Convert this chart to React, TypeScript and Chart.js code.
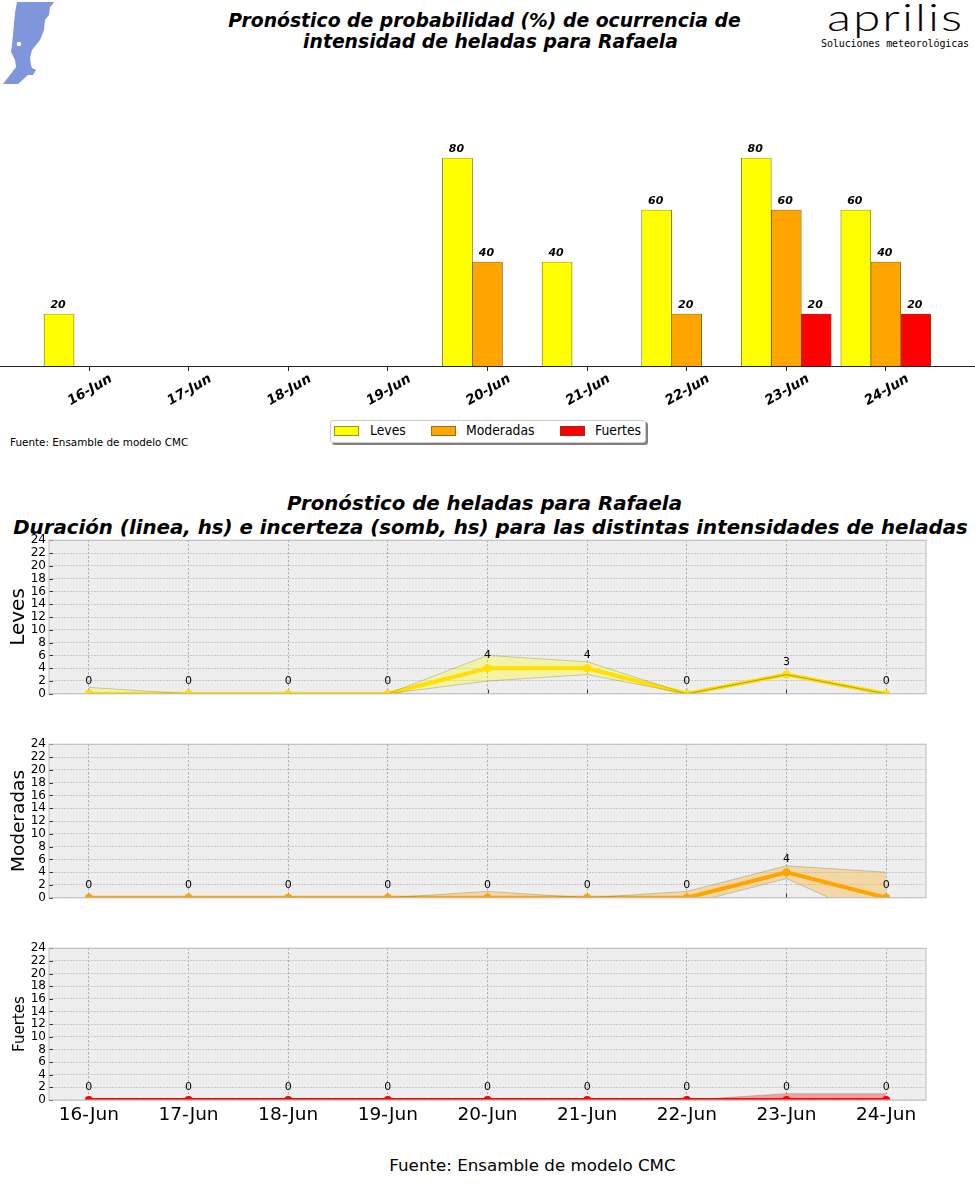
import { useEffect, useRef } from "react";
import { Chart, registerables } from "chart.js";

Chart.register(...registerables);
Chart.defaults.font.family = "'DejaVu Sans'";
Chart.defaults.color = "#000";

const days = ["16-Jun", "17-Jun", "18-Jun", "19-Jun", "20-Jun", "21-Jun", "22-Jun", "23-Jun", "24-Jun"];
const dayIndex = days.map((_, i) => i);
const hourTicks = [0, 2, 4, 6, 8, 10, 12, 14, 16, 18, 20, 22, 24];

// probabilidad (%)
const probLeves = [20, 0, 0, 0, 80, 40, 60, 80, 60];
const probModeradas = [0, 0, 0, 0, 40, 0, 20, 60, 40];
const probFuertes = [0, 0, 0, 0, 0, 0, 0, 20, 20];

// duracion (hs) y somb
const durLeves = [0, 0, 0, 0, 4, 4, 0, 3, 0];
const maxLeves = [1, 0, 0, 0, 6, 5, 0, 3, 0];
const minLeves = [0, 0, 0, 0, 2, 3, 0, 3, 0];

const durModeradas = [0, 0, 0, 0, 0, 0, 0, 4, 0];
const maxModeradas = [0, 0, 0, 0, 1, 0, 1, 5, 4];
const minModeradas = [0, 0, 0, 0, -1, 0, -1, 3, -4];

const durFuertes = [0, 0, 0, 0, 0, 0, 0, 0, 0];
const maxFuertes = [0, 0, 0, 0, 0, 0, 0, 1, 1];
const minFuertes = [0, 0, 0, 0, 0, 0, 0, -1, -1];

const YELLOW = "#ffff00";
const ORANGE = "#ffa500";
const RED = "#ff0000";

const probSeries = [
  { label: "Leves", data: probLeves, color: YELLOW },
  { label: "Moderadas", data: probModeradas, color: ORANGE },
  { label: "Fuertes", data: probFuertes, color: RED },
];

const barLabels = {
  id: "barLabels",
  afterDatasetsDraw(chart: any) {
    const ctx = chart.ctx;
    ctx.save();
    ctx.font = "italic bold 11px 'DejaVu Sans'";
    ctx.fillStyle = "#000";
    ctx.textAlign = "center";
    chart.data.datasets.forEach((ds: any, i: number) => {
      chart.getDatasetMeta(i).data.forEach((bar: any, j: number) => {
        if (ds.data[j].y > 0) ctx.fillText(String(ds.data[j].y), bar.x - 1, bar.y - 6);
      });
    });
    ctx.restore();
  },
};

const panelFrame = {
  id: "panelFrame",
  beforeDraw(chart: any) {
    const { ctx, chartArea: a } = chart;
    ctx.fillStyle = "#eeeeee";
    ctx.fillRect(a.left, a.top, a.right - a.left, a.bottom - a.top);
  },
  beforeDatasetsDraw(chart: any) {
    const { ctx, chartArea: a, scales } = chart;
    // ticks hacia adentro
    ctx.save();
    ctx.strokeStyle = "#333";
    ctx.lineWidth = 1;
    ctx.beginPath();
    scales.y.ticks.forEach((t: any) => {
      const y = Math.round(scales.y.getPixelForValue(t.value)) + 0.5;
      ctx.moveTo(a.left, y);
      ctx.lineTo(a.left + 4, y);
    });
    scales.x.ticks.forEach((t: any) => {
      const x = Math.round(scales.x.getPixelForValue(t.value)) + 0.5;
      ctx.moveTo(x, a.bottom);
      ctx.lineTo(x, a.bottom - 4);
    });
    ctx.stroke();
    ctx.restore();
  },
  afterDraw(chart: any) {
    const { ctx, chartArea: a } = chart;
    ctx.save();
    ctx.strokeStyle = "#bdbdbd";
    ctx.lineWidth = 1;
    ctx.strokeRect(a.left, a.top, a.right - a.left, a.bottom - a.top);
    ctx.restore();
  },
};

const hourLabels = {
  id: "hourLabels",
  afterDatasetsDraw(chart: any) {
    const ctx = chart.ctx;
    const ds = chart.data.datasets[2];
    ctx.save();
    ctx.font = "11px 'DejaVu Sans'";
    ctx.fillStyle = "#000";
    ctx.textAlign = "center";
    chart.getDatasetMeta(2).data.forEach((pt: any, j: number) => {
      ctx.fillText(String(ds.data[j].y), pt.x, pt.y - 10);
    });
    ctx.restore();
  },
};

const probConfig = (): any => ({
  type: "bar",
  data: {
    datasets: probSeries.map((s) => ({
      label: s.label,
      data: s.data.map((y, i) => ({ x: i, y })),
      backgroundColor: s.color,
      borderColor: "#55552a",
      borderWidth: 0.7,
      barThickness: 30,
    })),
  },
  options: {
    animation: false,
    responsive: false,
    layout: { padding: { top: 106 } },
    plugins: { legend: { display: false }, tooltip: { enabled: false } },
    scales: {
      x: {
        type: "linear",
        offset: false,
        min: -0.894,
        max: 8.895,
        afterBuildTicks: (scale: any) => {
          scale.ticks = dayIndex.map((value) => ({ value }));
        },
        afterFit: (scale: any) => {
          scale.height = 49;
        },
        grid: { offset: false, drawOnChartArea: false, tickLength: 5, tickColor: "#222" },
        border: { color: "#222" },
        ticks: {
          autoSkip: false,
          includeBounds: false,
          minRotation: 30,
          maxRotation: 30,
          labelOffset: 22,
          padding: 0,
          font: { size: 13.5, weight: "bold", style: "italic" },
          callback: (v: number) => days[v],
        },
      },
      y: { display: false, min: 0, max: 100 },
    },
  },
});

const hourConfig = (
  title: string,
  titleSize: number,
  titlePad: number,
  color: string,
  band: string,
  mean: number[],
  upper: number[],
  lower: number[],
  bottom: number,
  showDays: boolean,
): any => {
  const points = (vals: number[]) => vals.map((y, i) => ({ x: i, y }));
  const edge = { pointRadius: 0, borderWidth: 1, borderColor: "rgba(100,100,80,0.3)", fill: false, clip: 0 };
  const shade = { pointRadius: 0, borderWidth: 0, backgroundColor: band, clip: 0 };
  return {
    type: "line",
    data: {
      datasets: [
        // primero = arriba: bordes de la sombra, linea, relleno
        { ...edge, label: "max", data: points(upper) },
        { ...edge, label: "min", data: points(lower) },
        {
          label: title,
          data: points(mean),
          borderColor: color,
          backgroundColor: color,
          borderWidth: 4,
          pointRadius: 4,
          pointBorderWidth: 0,
          tension: 0,
          fill: false,
          clip: 0,
        },
        { ...shade, label: "sombMax", data: points(upper), fill: "+1" },
        { ...shade, label: "sombMin", data: points(lower), fill: false },
      ],
    },
    options: {
      animation: false,
      responsive: false,
      layout: { padding: { top: 10, right: 49 } },
      plugins: { legend: { display: false }, tooltip: { enabled: false } },
      scales: {
        x: {
          type: "linear",
          offset: false,
          min: -0.4,
          max: 8.4,
          afterBuildTicks: (scale: any) => {
            scale.ticks = dayIndex.map((value) => ({ value }));
          },
          afterFit: (scale: any) => {
            scale.height = bottom;
          },
          grid: { offset: false, color: "#a8a8a8", drawTicks: false, tickLength: 0 },
          border: { display: false, dash: [2, 2] },
          ticks: {
            display: showDays,
            autoSkip: false,
            includeBounds: false,
            maxRotation: 0,
            padding: 4,
            font: { size: 18.5 },
            callback: (v: number) => days[v],
          },
        },
        y: {
          min: 0,
          max: 24,
          afterBuildTicks: (scale: any) => {
            scale.ticks = hourTicks.map((value) => ({ value }));
          },
          afterFit: (scale: any) => {
            scale.width = 49;
          },
          grid: { color: "#cacaca", drawTicks: false, tickLength: 0 },
          border: { display: false, dash: [2, 1] },
          title: { display: true, text: title, font: { size: titleSize }, padding: { top: titlePad, bottom: 0 } },
          ticks: { padding: 3, font: { size: 12 }, autoSkip: false, includeBounds: false },
        },
      },
    },
  };
};

const ChartBox = ({ config, plugins, top, height }: any) => {
  const canvasRef = useRef<HTMLCanvasElement>(null);

  useEffect(() => {
    if (!canvasRef.current) return;
    const chart = new Chart(canvasRef.current, { ...config(), plugins });
    return () => chart.destroy();
  }, []);

  return (
    <canvas
      ref={canvasRef}
      width={975}
      height={height}
      style={{ position: "absolute", left: 0, top, display: "block", width: 975, height }}
    />
  );
};

const text = (left: number, top: number, size: number, extra: any = {}): any => ({
  position: "absolute",
  left,
  top,
  fontFamily: "'DejaVu Sans'",
  fontSize: size,
  whiteSpace: "nowrap",
  lineHeight: 1,
  color: "#000",
  ...extra,
});

const centered = { width: 975, textAlign: "center" };
const bold = { ...centered, fontWeight: "bold", fontStyle: "italic" };

export default function App() {
  return (
    <div style={{ position: "absolute", left: 0, top: 0, width: 975, height: 1200, background: "#fff", overflow: "hidden" }}>
      <svg width="60" height="90" style={{ position: "absolute", left: 0, top: 0 }}>
        <path
          fill="#7f96dc"
          d="M17 2 L54 2 L52 5 L50 7 L49 15 L45 20 L44 30 L42 35 L40 40 L36 45 L32 50 L30 58 L31 65 L32 68 L36 70 L33 75 L28 75 L18 84 L3 84 L16 67 L15 60 L11 52 L12 45 L13 35 L15 13 Z"
        />
        <circle cx="19" cy="44" r="2.3" fill="#fff" />
      </svg>

      <div style={text(-3, 12, 18.8, bold)}>Pronóstico de probabilidad (%) de ocurrencia de</div>
      <div style={text(3, 33, 18.8, bold)}>intensidad de heladas para Rafaela</div>

      <div
        style={text(827, -2, 37, {
          fontFamily: "Lato",
          fontWeight: 300,
          letterSpacing: 1.5,
          transform: "scaleX(1.34)",
          transformOrigin: "left",
        })}
      >
        aprilis
      </div>
      <div style={text(821, 39, 10, { fontFamily: "'DejaVu Sans Mono'", letterSpacing: -0.1 })}>Soluciones meteorológicas</div>

      <ChartBox config={probConfig} plugins={[barLabels]} top={0} height={415} />

      <div style={text(10, 437, 10.4)}>Fuente: Ensamble de modelo CMC</div>

      <div
        style={{
          position: "absolute",
          left: 330,
          top: 420,
          width: 316,
          height: 23,
          background: "#fff",
          border: "1px solid #ccc",
          borderRadius: 3,
          boxSizing: "border-box",
          boxShadow: "2px 2px 0 #808080",
        }}
      />
      {probSeries.map((s, i) => (
        <div key={s.label}>
          <div
            style={{
              position: "absolute",
              left: [334, 431, 560][i],
              top: 426,
              width: 25,
              height: 10,
              boxSizing: "border-box",
              background: s.color,
              border: "1px solid rgba(80,80,40,0.6)",
            }}
          />
          <div style={text([370, 466, 595][i], 424, 13.5, { transform: "scaleX(0.92)", transformOrigin: "left" })}>{s.label}</div>
        </div>
      ))}

      <div style={text(-3, 494, 19.8, bold)}>Pronóstico de heladas para Rafaela</div>
      <div style={text(3, 518, 19.8, bold)}>
        Duración (linea, hs) e incerteza (somb, hs) para las distintas intensidades de heladas
      </div>

      <ChartBox
        config={() => hourConfig("Leves", 20, 7, "#ffe000", "rgba(255,255,0,0.3)", durLeves, maxLeves, minLeves, 7, false)}
        plugins={[panelFrame, hourLabels]}
        top={530}
        height={174}
      />
      <ChartBox
        config={() => hourConfig("Moderadas", 18.5, 8, ORANGE, "rgba(255,165,0,0.3)", durModeradas, maxModeradas, minModeradas, 7, false)}
        plugins={[panelFrame, hourLabels]}
        top={734}
        height={174}
      />
      <ChartBox
        config={() => hourConfig("Fuertes", 15, 11, RED, "rgba(255,0,0,0.33)", durFuertes, maxFuertes, minFuertes, 38, true)}
        plugins={[panelFrame, hourLabels]}
        top={938}
        height={200}
      />

      <div style={text(45, 1157, 16.7, centered)}>Fuente: Ensamble de modelo CMC</div>
    </div>
  );
}
